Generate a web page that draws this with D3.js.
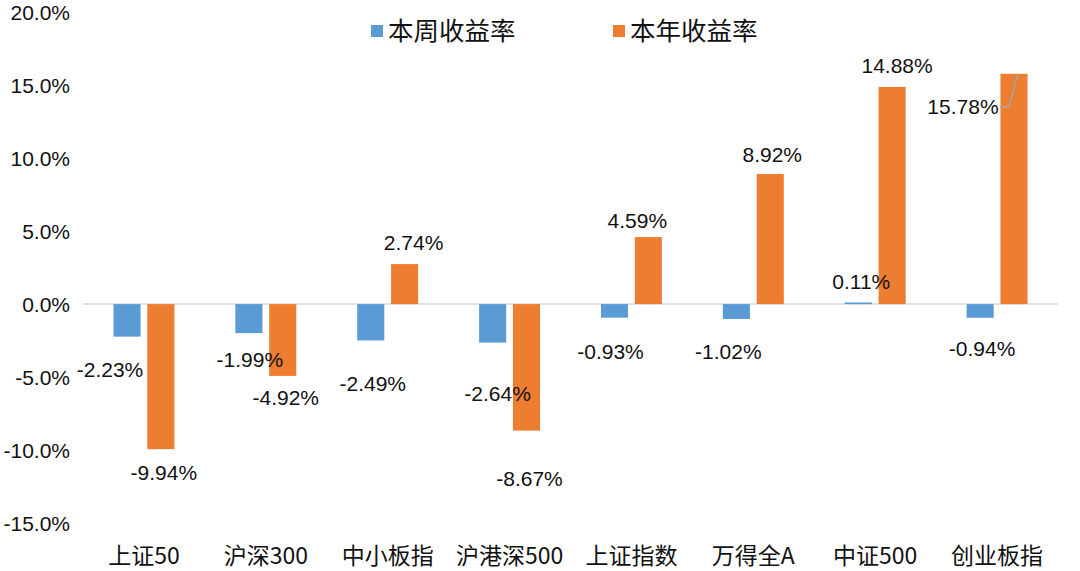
<!DOCTYPE html>
<html><head><meta charset="utf-8">
<script src="https://cdn.jsdelivr.net/npm/d3@7"></script>
<style>body{margin:0;background:#fff}svg{display:block}</style>
</head><body>
<svg id="c" width="1080" height="571"></svg>
<script>
const categories = ["上证50","沪深300","中小板指","沪港深500","上证指数","万得全A","中证500","创业板指"];
const seriesNames = ["本周收益率","本年收益率"];
const weekly = [-2.23,-1.99,-2.49,-2.64,-0.93,-1.02,0.11,-0.94];
const yearly = [-9.94,-4.92,2.74,-8.67,4.59,8.92,14.88,15.78];
const yTicks = [-15,-10,-5,0,5,10,15,20];
const colors = ["#5B9BD5","#ED7D31"];
// label nudges (dx,dy) from default outside-end positions
const weeklyNudge = [[-17,11],[1,5],[2,21],[5,29],[-4,12],[-8,11],[3,0],[2,9]];
const yearlyNudge = [[3,1],[3,0],[9,0],[3,26],[-11,5],[2,2],[5,0],[-51,54]];

const svg = d3.select("#c");
const x0 = d3.scaleBand().domain(categories).range([83,1058]).padding(0);
const x1 = d3.scaleBand().domain(seriesNames).range([x0.bandwidth()*0.25, x0.bandwidth()*0.75]).paddingInner(0.2);
const y = d3.scaleLinear().domain([-15,20]).range([523,12.2]);
const numFont = "'Liberation Sans', Arial, sans-serif";
const cjkFont = "'Noto Sans CJK SC', sans-serif";

// y axis labels
const yAxis = d3.axisLeft(y).tickValues(yTicks).tickFormat(d => d.toFixed(1) + "%").tickSize(0).tickPadding(0);
const gy = svg.append("g").attr("transform","translate(70,0)").call(yAxis);
gy.select(".domain").remove();
gy.selectAll("text").attr("font-family",numFont).attr("font-size",21).attr("fill","#111").attr("dy","0.35em");

// zero line
svg.append("line").attr("x1",83).attr("x2",1058).attr("y1",y(0)).attr("y2",y(0))
  .attr("stroke","#d9d9d9").attr("stroke-width",1.5);

const data = [weekly, yearly];
const nudges = [weeklyNudge, yearlyNudge];
const barLayer = svg.append("g");
const labelLayer = svg.append("g");
data.forEach((vals, s) => {
  barLayer.append("g").selectAll("rect").data(vals).join("rect")
    .attr("x",(d,i)=>x0(categories[i])+x1(seriesNames[s]))
    .attr("width",x1.bandwidth())
    .attr("y",d=>y(Math.max(0,d)))
    .attr("height",d=>Math.abs(y(d)-y(0)))
    .attr("fill",colors[s]);
  labelLayer.append("g").selectAll("text").data(vals).join("text")
    .attr("x",(d,i)=>x0(categories[i])+x1(seriesNames[s])+x1.bandwidth()/2+nudges[s][i][0])
    .attr("y",(d,i)=>(d>=0? y(d)-21 : y(d)+22)+nudges[s][i][1])
    .attr("dy","0.35em").attr("text-anchor","middle")
    .attr("font-family",numFont).attr("font-size",21).attr("fill","#111")
    .text(d=>d.toFixed(2)+"%");
});

// leader line for last yearly label
{
  const i = 7, s = 1, d = yearly[i];
  const cx = x0(categories[i])+x1(seriesNames[s])+x1.bandwidth()/2;
  const lx = cx + yearlyNudge[i][0] + 37;
  const ly = y(d) - 21 + yearlyNudge[i][1];
  labelLayer.append("path").attr("d",`M${lx},${ly}H${lx+9}L${cx+4},${y(d)}`)
    .attr("fill","none").attr("stroke","#a6a6a6").attr("stroke-width",1.5);
}

// category labels
svg.append("g").selectAll("text").data(categories).join("text")
  .attr("x",d=>x0(d)+x0.bandwidth()/2).attr("y",556).attr("dy","0.35em")
  .attr("text-anchor","middle").attr("font-family",cjkFont).attr("font-size",23).attr("fill","#111")
  .text(d=>d);

// legend
const legX = [371, 613];
const lg = svg.append("g").selectAll("g").data(seriesNames).join("g")
  .attr("transform",(d,i)=>`translate(${legX[i]},25)`);
lg.append("rect").attr("width",12).attr("height",12).attr("fill",(d,i)=>colors[i]);
lg.append("text").attr("x",17).attr("y",6).attr("dy","0.35em")
  .attr("font-family",cjkFont).attr("font-size",25.5).attr("fill","#111").text(d=>d);
</script>
</body></html>
